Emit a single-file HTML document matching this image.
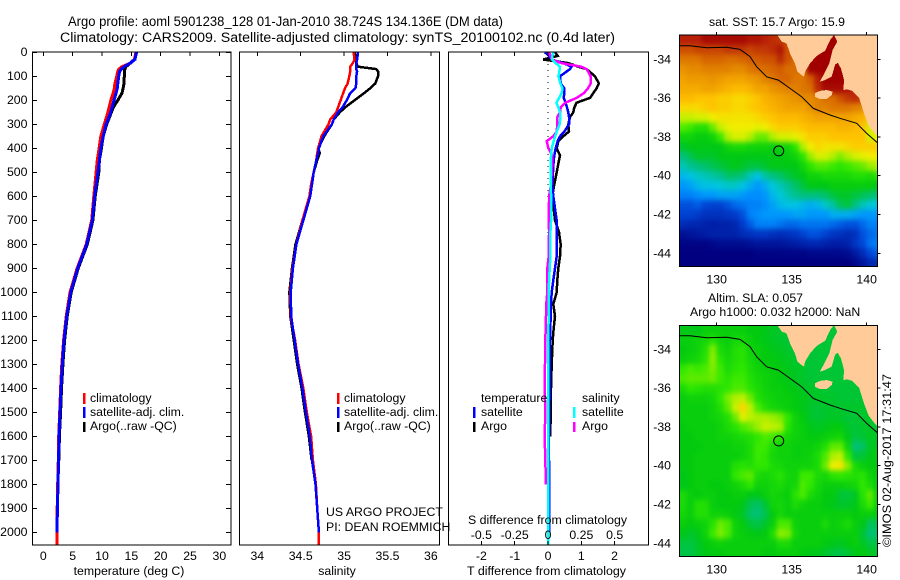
<!DOCTYPE html>
<html>
<head>
<meta charset="utf-8">
<title>Argo profile</title>
<style>
html,body{margin:0;padding:0;background:#fff}
svg{display:block}
text{font-family:"Liberation Sans",sans-serif;font-size:12.3px;fill:#000}
.e{text-anchor:end}.m{text-anchor:middle}
</style>
</head>
<body>
<svg id="chart" xmlns="http://www.w3.org/2000/svg" width="900" height="580" viewBox="0 0 900 580">
<rect width="900" height="580" fill="#fff"/>
<text x="68" y="26" textLength="435" lengthAdjust="spacingAndGlyphs" style="font-size:13.5px">Argo profile: aoml 5901238_128 01-Jan-2010 38.724S 134.136E (DM data)</text>
<text x="60" y="42" textLength="555" lengthAdjust="spacingAndGlyphs" style="font-size:13.5px">Climatology: CARS2009. Satellite-adjusted climatology: synTS_20100102.nc (0.4d later)</text>

<g id="p1"></g>
<g id="p2"></g>
<g id="p3"></g>
<g id="m1"></g>
<g id="m2"></g>

<text class="m" x="129" y="575">temperature (deg C)</text>
<text class="m" x="337" y="575">salinity</text>
<text x="467" y="575" textLength="159" lengthAdjust="spacingAndGlyphs">T difference from climatology</text>
<text x="468" y="524" textLength="159" lengthAdjust="spacingAndGlyphs">S difference from climatology</text>

<g>
<rect x="83" y="393" width="2.5" height="11" fill="#f00"/>
<rect x="83" y="407" width="2.5" height="11" fill="#00f"/>
<rect x="83" y="422" width="2.5" height="10" fill="#000"/>
<text x="90" y="402">climatology</text>
<text x="90" y="416">satellite-adj. clim.</text>
<text x="90" y="430">Argo(..raw -QC)</text>
</g>
<g>
<rect x="337" y="393" width="2.5" height="11" fill="#f00"/>
<rect x="337" y="407" width="2.5" height="11" fill="#00f"/>
<rect x="337" y="422" width="2.5" height="10" fill="#000"/>
<text x="344" y="402">climatology</text>
<text x="344" y="416">satellite-adj. clim.</text>
<text x="344" y="430">Argo(..raw -QC)</text>
</g>
<g>
<text x="481" y="402">temperature</text>
<rect x="473" y="407" width="2.5" height="11" fill="#00f"/>
<rect x="473" y="422" width="2.5" height="10" fill="#000"/>
<text x="481" y="416">satellite</text>
<text x="481" y="430">Argo</text>
<text x="582" y="402">salinity</text>
<rect x="573" y="407" width="2.5" height="11" fill="#0ff"/>
<rect x="573" y="422" width="2.5" height="10" fill="#f0f"/>
<text x="582" y="416">satellite</text>
<text x="582" y="430">Argo</text>
</g>
<text x="326" y="516">US ARGO PROJECT</text>
<text x="326" y="531">PI: DEAN ROEMMICH</text>

<text class="m" x="777" y="26">sat. SST: 15.7 Argo: 15.9</text>
<text x="708" y="302">Altim. SLA: 0.057</text>
<text x="690" y="316">Argo h1000: 0.032 h2000: NaN</text>
<text x="0" y="0" transform="translate(891,547) rotate(-90)" textLength="173" lengthAdjust="spacingAndGlyphs">©IMOS 02-Aug-2017 17:31:47</text>
</svg>

<script>
// ---- profile data ----
const depthTemp = [0,30,45,60,70,80,100,130,150,170,200,230,250,300,350,400,450,500,600,700,800,900,1000,1100,1200,1300,1400,1500,1600,1700,1800,1900,2000,2050];
const climTemp = [15.8,15.5,14.9,13.35,12.9,12.7,12.5,12.2,12.1,11.9,11.5,11.2,11.0,10.4,9.8,9.5,9.2,9.0,8.6,8.25,7.3,5.75,4.55,3.9,3.45,3.15,2.95,2.8,2.62,2.55,2.45,2.36,2.3,2.3];
const satTemp = [15.9,15.6,14.8,13.75,13.3,13.0,12.85,12.7,12.6,12.4,12.05,11.7,11.5,10.7,10.2,9.8,9.55,9.3,8.75,8.35,7.39,5.86,4.66,3.98,3.53,3.24,3.01,2.85,2.67,2.6,2.5,2.4,2.33,null];
const argoTemp = [15.9,15.5,14.8,14.1,13.9,13.8,13.8,13.75,13.6,13.4,12.7,11.9,11.6,10.8,10.2,9.9,9.55,9.45,8.85,8.45,7.5,5.95,4.75,4.08,3.63,3.34,3.1,2.95,2.75,2.65,null,null,null,null];

const depthSal = [0,30,45,60,70,80,100,130,150,170,200,230,250,280,300,350,400,420,450,500,550,600,700,800,900,1000,1100,1200,1300,1400,1500,1600,1700,1800,1900,2000,2050];
const climSal = [35.11,35.12,35.10,35.07,35.07,35.07,35.06,35.04,35.01,34.99,34.96,34.93,34.91,34.84,34.82,34.74,34.70,34.69,34.68,34.65,34.62,34.60,34.52,34.45,34.405,34.38,34.385,34.435,34.475,34.53,34.57,34.62,34.64,34.675,34.69,34.71,34.71];
const satSal = [35.16,35.15,35.14,35.14,35.14,35.15,35.14,35.14,35.13,35.07,35.03,34.98,34.93,34.88,34.86,34.76,34.71,34.70,34.68,34.65,34.63,34.61,34.53,34.45,34.41,34.385,34.39,34.43,34.47,34.52,34.56,34.605,34.63,34.67,34.69,34.71,null];
const argoSal = [35.12,35.14,35.14,35.16,35.37,35.39,35.39,35.36,35.30,35.23,35.12,35.01,34.95,34.88,34.86,34.77,34.70,34.72,34.69,34.65,34.63,34.61,34.52,34.44,34.40,34.37,34.38,34.42,34.46,34.51,34.55,34.595,34.625,null,null,null,null];

const depthDiff = [0,15,30,45,60,70,100,130,150,170,190,210,230,250,270,300,330,350,370,400,430,450,500,550,600,700,750,800,850,900,950,1000,1050,1100,1150,1200,1300,1400,1500,1600,1700,1800,1900,2000,2050];
const tDiffArgo = [.21,.29,-.14,.61,.91,1.16,1.41,1.53,1.46,1.36,1.26,.86,.79,.76,.66,.61,.63,.46,.31,.26,.36,.33,.26,.19,.13,.21,.33,.38,.36,.31,.28,.26,.16,.21,.17,.14,.11,.09,.08,.07,null,null,null,null,null];
const tDiffSat = [-.09,.03,.11,.46,.71,.66,.36,.38,.49,.49,.47,.53,.57,.61,.63,.63,.49,.36,.29,.23,.19,.17,.15,.13,.16,.26,.26,.27,.26,.21,.16,.11,.09,.08,.07,.06,.05,.05,.04,.03,.03,.03,.03,.03,null];
const sDiffArgo = [.008,.018,.028,.10,.25,.29,.32,.32,.30,.27,.215,.13,.095,.09,.07,.07,.065,.04,-.01,.003,.033,.033,.028,.023,.008,.005,.008,.005,.005,-.005,-.005,-.005,-.0125,-.015,-.0175,-.02,-.0225,-.025,-.02,-.025,-.02,-.015,null,null,null];
const sDiffSat = [.04,.033,.03,.058,.09,.088,.078,.093,.108,.103,.083,.063,.078,.09,.093,.088,.065,.053,.043,.028,.023,.02,.02,.02,.023,.023,.018,.018,.018,.013,.008,.005,.005,.005,.003,0,0,0,.002,.002,.002,.002,.002,.002,.002];

// ---- tick labels ----
const depthTicks = [0,100,200,300,400,500,600,700,800,900,1000,1100,1200,1300,1400,1500,1600,1700,1800,1900,2000];
const tempTicks = [0,5,10,15,20,25,30];
const salTicks = [34,34.5,35,35.5,36];
const tDiffTicks = [-2,-1,0,1,2];
const sDiffTicks = [-0.5,-0.25,0,0.25,0.5];
const lonTicks = [130,135,140];
const latTicks = [-34,-36,-38,-40,-42,-44];

// ---- map data ----
const argoLon = 134.136;
const argoLat = -38.724;
const cellDeg = 0.5;
const sstGrid = [
[19.3,19.3,19.3,19.5,19.5,19.5,19.5,19.5,19.5,19.4,19.4,19.3,19.2,19.1,18.9,18.9,18.8,19.6,19.6,19.6,19.6,19.6,19.6,19.6,19.6,19.6,19.6],
[18.9,18.9,19.0,19.0,19.0,19.0,19.1,19.1,19.1,19.0,19.1,19.1,19.2,19.4,18.9,18.7,18.6,19.6,19.6,19.6,19.6,19.6,19.6,19.6,19.6,19.6,19.6],
[18.5,18.5,18.5,18.7,18.7,18.7,18.6,18.6,18.7,18.8,18.8,18.9,18.9,19.2,18.9,18.6,18.5,19.6,19.6,19.6,19.6,19.6,19.6,19.6,19.6,19.6,19.6],
[18.2,18.3,18.3,18.4,18.4,18.4,18.4,18.3,18.3,18.5,18.6,18.6,18.7,18.8,18.6,18.6,18.4,19.6,19.6,19.6,19.6,19.6,19.6,19.6,19.6,19.6,19.6],
[18.0,18.1,18.1,18.1,18.2,18.1,18.0,18.0,18.0,18.1,18.2,18.4,18.5,18.7,18.7,18.5,18.5,18.8,19.3,19.6,19.6,19.6,19.6,19.6,19.6,19.6,19.6],
[17.9,17.9,17.9,18.0,18.0,17.9,17.8,17.7,17.7,17.8,18.0,18.0,18.2,18.3,18.4,18.4,18.5,18.6,19.2,19.5,19.5,19.5,19.4,19.3,19.0,18.8,18.6],
[17.7,17.7,17.6,17.6,17.6,17.5,17.5,17.4,17.4,17.5,17.6,17.8,17.9,18.0,18.1,18.2,18.3,18.3,18.4,18.6,18.6,18.9,19.1,19.2,19.0,18.8,18.6],
[17.4,17.4,17.4,17.5,17.6,17.5,17.5,17.4,17.4,17.5,17.6,17.7,17.8,17.9,18.0,18.0,18.0,18.2,18.4,18.4,18.5,18.5,18.5,18.4,18.3,18.0,18.4],
[16.9,16.9,17.0,17.0,17.2,17.3,17.3,17.3,17.3,17.3,17.4,17.5,17.6,17.7,17.7,17.7,17.8,17.9,18.0,18.0,18.0,18.0,18.0,17.9,17.8,17.4,18.0],
[16.4,16.3,16.1,16.1,16.5,16.9,17.1,17.2,17.2,17.2,17.1,17.2,17.4,17.5,17.5,17.5,17.6,17.7,17.7,17.7,17.7,17.8,17.8,17.7,17.6,17.0,17.2],
[15.9,15.9,15.8,15.8,15.9,16.3,16.8,17.0,17.0,16.8,16.5,16.5,16.8,17.0,17.0,17.1,17.3,17.5,17.5,17.5,17.6,17.6,17.6,17.6,17.6,17.0,17.2],
[15.6,15.7,15.7,15.7,15.7,15.7,15.9,16.0,16.0,15.9,15.9,15.9,15.8,15.9,15.9,16.2,16.8,17.2,17.4,17.3,17.3,17.3,17.4,17.5,17.5,17.5,17.5],
[15.2,15.4,15.6,15.6,15.6,15.7,15.7,15.7,15.7,15.7,15.7,15.7,15.7,15.7,15.8,15.9,16.2,16.7,17.0,17.0,16.8,16.6,16.8,17.0,17.1,17.2,17.2],
[14.9,15.1,15.2,15.3,15.4,15.5,15.6,15.7,15.6,15.5,15.5,15.6,15.7,15.7,15.7,15.7,15.9,16.2,16.4,16.4,16.3,16.2,16.3,16.4,16.5,16.7,16.8],
[14.5,14.6,14.8,14.9,15.0,15.1,15.3,15.3,15.2,14.9,14.6,15.0,15.2,15.3,15.5,15.6,15.7,15.9,15.9,16.0,16.0,16.0,16.0,16.1,16.1,16.0,16.2],
[14.2,14.3,14.5,14.6,14.6,14.7,14.8,14.8,14.6,14.4,14.2,14.4,14.7,14.9,15.1,15.3,15.5,15.7,15.7,15.7,15.8,15.8,15.8,15.8,15.8,15.8,15.7],
[14.0,14.0,14.1,14.2,14.2,14.3,14.3,14.3,14.2,14.1,14.1,14.2,14.5,14.7,14.9,15.1,15.2,15.2,15.2,15.3,15.5,15.6,15.6,15.5,15.4,15.3,15.2],
[13.6,13.6,13.7,13.5,13.4,13.4,13.6,13.8,13.9,14.0,14.0,14.1,14.3,14.5,14.6,14.6,14.5,14.4,14.5,14.8,15.0,15.4,15.5,15.2,14.9,14.7,14.7],
[13.4,13.4,13.3,13.1,13.1,13.1,13.2,13.3,13.6,14.0,14.1,14.2,14.2,14.2,14.2,14.3,14.3,14.2,14.2,14.2,14.4,14.4,14.4,14.3,14.2,14.2,14.2],
[13.0,12.9,12.9,12.8,12.7,12.8,12.8,12.9,13.3,13.7,14.0,14.0,14.0,13.9,13.8,13.8,13.9,13.9,13.9,13.9,13.8,13.7,13.6,13.6,13.8,14.0,14.0],
[12.4,12.5,12.6,12.7,12.8,12.8,12.8,12.8,13.0,13.1,13.2,13.2,13.1,13.0,13.1,13.2,13.4,13.6,13.6,13.4,13.2,13.1,13.0,13.1,13.6,13.8,13.9],
[12.1,12.1,12.1,12.1,12.2,12.3,12.3,12.3,12.3,12.4,12.5,12.5,12.5,12.5,12.6,12.7,12.8,12.9,12.9,12.8,12.7,12.7,12.8,13.2,13.5,13.9,14.0],
[12.0,12.0,12.0,12.0,12.0,12.0,12.0,12.0,12.0,12.0,12.1,12.1,12.1,12.1,12.1,12.1,12.1,12.2,12.2,12.2,12.2,12.2,12.3,12.6,13.0,13.5,13.7],
[12.0,12.0,12.0,12.0,12.0,12.0,12.0,12.0,12.0,12.0,12.0,12.0,12.0,12.0,12.0,12.0,12.0,12.0,12.0,12.0,12.0,12.0,12.0,12.2,12.5,12.9,13.0]
];
const slaGrid = [
[.0,.0,.0,.02,.02,.02,.02,.02,.02,.01,.01,.0,-.01,-.02,-.02,-.03,-.03,-.03,-.03,-.03,-.03,-.03,-.03,-.03,-.03,-.03,-.03],
[.02,.02,.03,.04,.06,.03,.02,.04,.04,.02,.01,.0,-.01,-.02,-.03,-.03,-.03,-.03,-.03,-.03,-.03,-.03,-.03,-.03,-.03,-.03,-.03],
[.01,.02,.03,.06,.13,.05,.03,.06,.07,.03,.02,.01,.0,-.01,-.02,-.03,-.03,-.03,-.03,-.03,-.03,-.03,-.03,-.03,-.03,-.03,-.03],
[.02,.03,.04,.07,.14,.07,.04,.06,.07,.04,.02,.01,.01,.0,-.01,-.02,-.03,-.03,-.03,-.03,-.03,-.03,-.03,-.03,-.03,-.03,-.03],
[.08,.1,.09,.1,.13,.09,.05,.07,.08,.05,.03,.02,.01,.01,.0,-.01,-.02,-.03,-.03,-.03,-.03,-.03,-.03,-.03,-.03,-.03,-.03],
[.1,.11,.11,.11,.12,.09,.07,.09,.09,.06,.04,.03,.02,.01,.0,-.01,-.02,-.03,-.03,-.03,-.03,-.03,-.03,-.03,-.03,-.03,-.03],
[.05,.08,.07,.06,.06,.07,.08,.1,.1,.07,.05,.03,.02,.02,.01,.0,-.01,-.02,-.02,-.03,-.03,-.03,-.03,-.03,-.03,-.03,-.03],
[.02,.03,.03,.03,.04,.08,.13,.16,.17,.12,.06,.04,.03,.02,.02,.01,.0,-.01,-.01,-.02,-.02,-.03,-.03,-.03,-.03,-.03,-.03],
[.02,.02,.02,.02,.03,.06,.11,.18,.25,.17,.1,.06,.04,.03,.02,.01,.0,-.02,-.03,-.02,-.02,-.02,-.02,-.02,-.02,-.03,-.03],
[.02,.02,.02,.02,.03,.04,.06,.12,.2,.17,.16,.16,.15,.13,.08,.03,.01,-.02,-.03,-.02,-.01,-.02,-.03,-.03,-.02,-.02,-.03],
[.01,.02,.02,.02,.02,.03,.05,.07,.1,.12,.15,.18,.17,.16,.07,.03,.02,.0,-.01,.0,.01,.01,-.02,-.03,-.02,-.02,-.02],
[.01,.01,.02,.02,.02,.03,.03,.04,.05,.06,.08,.1,.09,.07,.04,.03,.02,.01,.01,.02,.03,.04,.0,-.04,-.03,-.01,-.01],
[.01,.01,.01,.02,.02,.02,.02,.03,.03,.05,.09,.09,.05,.03,.03,.02,.02,.02,.03,.06,.11,.11,.03,-.1,-.08,-.01,.0],
[.01,.01,.02,.02,.02,.02,.02,.02,.03,.05,.09,.08,.04,.03,.03,.02,.02,.03,.05,.1,.16,.17,.08,-.04,-.03,.0,.01],
[.01,.01,.02,.02,.02,.02,.02,.06,.07,.06,.08,.08,.05,.04,.03,.03,.03,.03,.05,.12,.22,.23,.14,.05,.02,.01,.01],
[.0,.01,.02,.02,.02,.02,.02,.08,.1,.11,.05,.04,.05,.07,.04,.03,.09,.09,.05,.04,.07,.08,.07,.06,.07,.03,.01],
[.0,.01,.02,.02,.01,.01,.02,.03,.05,.08,.03,.03,.04,.05,.03,.04,.1,.08,.04,.02,.02,.02,.03,.04,.08,.05,.01],
[.05,.02,.01,.02,.02,.01,.01,.02,.02,.0,.0,.02,.04,.03,.02,.07,.1,.05,.03,.01,.01,-.03,-.04,-.01,.07,.11,.02],
[.05,.02,.06,.06,.02,.01,.01,.01,.0,-.06,-.08,-.03,.03,.04,.02,.05,.03,.02,.02,.01,.0,-.02,-.02,.0,.05,.09,.02],
[.04,.02,.06,.06,.03,.03,.02,.01,-.02,-.08,-.1,-.06,.01,.04,.02,.02,.02,.02,.02,.02,.02,.02,.02,.01,.02,.02,.01],
[.02,.01,.02,.03,.07,.12,.1,.03,.01,-.03,-.05,-.02,.02,.1,.1,.03,.02,.02,.02,.05,.02,.03,.05,.02,.0,-.07,-.06],
[.0,-.02,.0,.03,.09,.13,.1,.03,.02,.01,.0,.01,.06,.14,.13,.04,.02,.02,.02,.02,.02,.02,.02,.02,-.03,-.1,-.08],
[-.04,-.04,-.02,.01,.02,.03,.02,.02,.02,.02,.02,.02,.02,.05,.05,.02,.02,.02,.02,.01,.0,-.01,.01,.02,-.01,-.05,-.04],
[-.05,-.05,-.02,.0,.01,.01,.02,.02,.02,.02,.02,.01,.01,.02,.02,.02,.01,.0,.0,-.02,-.04,-.05,-.03,.0,.01,-.01,-.02]
];
const coastLon = [134.04,134.33,134.66,134.89,135.22,135.38,135.67,135.82,135.89,136.22,136.66,137.22,137.60,137.82,138.04,137.73,137.51,137.11,136.89,137.22,137.66,137.89,138.06,138.29,138.49,138.44,138.71,139.00,139.51,139.82,140.11,140.44,140.82,140.82];
const coastLat = [-32.75,-33.09,-33.18,-33.69,-34.21,-34.64,-34.81,-34.90,-34.64,-34.21,-33.83,-33.56,-32.97,-32.75,-33.09,-33.52,-34.21,-34.81,-35.15,-35.07,-34.90,-34.29,-34.17,-34.47,-35.07,-35.58,-35.55,-35.62,-36.01,-36.79,-37.39,-37.73,-38.07,-32.75];
const islandLon = [136.55,136.89,137.33,137.73,137.67,137.33,136.89,136.55];
const islandLat = [-35.75,-35.63,-35.58,-35.67,-35.84,-36.05,-36.05,-35.93];
const shelfLon = [127.51,128.22,129.33,130.66,131.55,132.22,132.66,133.33,134.11,134.89,135.66,136.44,137.55,138.22,139.33,140.0,140.71];
const shelfLat = [-33.30,-33.30,-33.40,-33.38,-33.49,-33.86,-34.38,-34.90,-35.07,-35.50,-35.93,-36.53,-36.87,-37.04,-37.30,-37.82,-38.30];

// ---- helpers ----
const NS = 'http://www.w3.org/2000/svg';
function mk(parent, tag, attrs, txt) {
  const el = document.createElementNS(NS, tag);
  for (const k in attrs) el.setAttribute(k, attrs[k]);
  if (txt !== undefined) el.textContent = txt;
  parent.appendChild(el);
  return el;
}
const depthY = d => 52.3 + d * 0.24;
const tempX = v => 43.3 + v * 5.87;
const salX = v => 257.3 + (v - 34) * 86.8;
const tDiffX = v => 548 + v * 33.3;
const sDiffX = v => 548 + v * 133.3;

function drawLine(g, name, depths, vals, xf, color, w) {
  const pts = [];
  depths.forEach((d, i) => {
    if (vals[i] !== null) pts.push(xf(vals[i]).toFixed(1) + ',' + depthY(d).toFixed(1));
  });
  const el = mk(g, 'polyline', {points: pts.join(' '), fill: 'none', stroke: color, 'stroke-width': w, 'shape-rendering': 'crispEdges'});
  
  
}
function drawFrame(g, x0, x1) {
  const el = mk(g, 'rect', {x: x0, y: 52, width: x1 - x0, height: 493, fill: 'none', stroke: '#000', 'stroke-width': 1.1, 'shape-rendering': 'crispEdges'});
  
  
}
function vTick(g, x, y0, y1) {
  const el = mk(g, 'line', {x1: x, x2: x, y1: y0, y2: y1, stroke: '#000', 'shape-rendering': 'crispEdges'});
  
  
}
function hTick(g, y, x0, x1) {
  const el = mk(g, 'line', {x1: x0, x2: x1, y1: y, y2: y, stroke: '#000', 'shape-rendering': 'crispEdges'});
  
  
}
function label(g, name, x, y, cls, s) {
  const el = mk(g, 'text', {x: x, y: y, class: cls}, s);
  
  
}

// ---- temperature panel ----
const p1 = document.getElementById('p1');
drawLine(p1, 'argo-temperature-line', depthTemp, argoTemp, tempX, '#000', 3);
drawLine(p1, 'climatology-temperature-line', depthTemp, climTemp, tempX, '#f00', 3);
drawLine(p1, 'satellite-temperature-line', depthTemp, satTemp, tempX, '#00f', 3);
drawFrame(p1, 32.5, 231);
depthTicks.forEach(d => {
  hTick(p1, depthY(d), 32.5, 37);
  hTick(p1, depthY(d), 226, 231);
  label(p1, 'depth-tick-label', 27.5, depthY(d) + 3.8, 'e', String(d));
});
tempTicks.forEach(t => {
  vTick(p1, tempX(t), 52, 56);
  label(p1, 'temperature-tick-label', tempX(t), 560, 'm', String(t));
});

// ---- salinity panel ----
const p2 = document.getElementById('p2');
drawLine(p2, 'argo-salinity-line', depthSal, argoSal, salX, '#000', 2.5);
drawLine(p2, 'climatology-salinity-line', depthSal, climSal, salX, '#f00', 2.5);
drawLine(p2, 'satellite-salinity-line', depthSal, satSal, salX, '#00f', 2.5);
drawFrame(p2, 239.5, 439.5);
salTicks.forEach(s => {
  vTick(p2, salX(s), 52, 56);
  label(p2, 'salinity-tick-label', salX(s), 560, 'm', String(s));
});

// ---- difference panel ----
const p3 = document.getElementById('p3');
const zeroLine = mk(p3, 'line', {x1: 548, x2: 548, y1: 52, y2: 545, stroke: '#000', 'stroke-dasharray': '1 5', 'shape-rendering': 'crispEdges'});


drawLine(p3, 't-difference-argo-line', depthDiff, tDiffArgo, tDiffX, '#000', 2.5);
drawLine(p3, 't-difference-satellite-line', depthDiff, tDiffSat, tDiffX, '#00f', 2.5);
drawLine(p3, 's-difference-argo-line', depthDiff, sDiffArgo, sDiffX, '#f0f', 2.5);
drawLine(p3, 's-difference-satellite-line', depthDiff, sDiffSat, sDiffX, '#0ff', 2.5);
drawFrame(p3, 448.5, 648.5);
tDiffTicks.forEach(t => {
  vTick(p3, tDiffX(t), 52, 56);
  vTick(p3, tDiffX(t), 541, 545);
  label(p3, 't-difference-tick-label', tDiffX(t), 560, 'm', String(t));
});
sDiffTicks.forEach(s => {
  label(p3, 's-difference-tick-label', sDiffX(s), 539, 'm', String(s));
});

// ---- colour scale ----
const stopT = [0,.1,.2,.28,.35,.42,.49,.56,.64,.68,.74,.82,.9,.96,1];
const stopC = [[0,0,128],[0,32,168],[0,72,216],[0,144,255],[0,200,224],[0,192,128],[0,200,16],[48,232,0],[192,240,0],[240,240,0],[255,192,0],[232,144,0],[208,88,0],[184,32,8],[160,0,0]];
function colour(t) {
  t = Math.max(0, Math.min(1, t));
  let i = 0;
  while (i < stopT.length - 2 && t > stopT[i + 1]) i++;
  const f = (t - stopT[i]) / (stopT[i + 1] - stopT[i]);
  const c = stopC[i].map((a, k) => Math.round(a + (stopC[i + 1][k] - a) * f));
  return 'rgb(' + c.join(',') + ')';
}
const sstColour = v => colour((v - 12) / 7.6);
const slaColour = v => colour(v < 0 ? .485 + v * .6 : .485 + v * .9);

// ---- maps ----
function drawMap(g, top, bottom, lat34Y, grid, colourFn, prefix) {
  const left = 679.5, right = 877.5;
  const lonX = v => 716.7 + (v - 130) * 15;
  const latY = v => lat34Y + (-34 - v) * 19.4;
  const clipId = prefix + '-clip';
  const blurId = prefix + '-soften';
  const defs = mk(g, 'defs', {});
  const cp = mk(defs, 'clipPath', {id: clipId});
  mk(cp, 'rect', {x: left, y: top, width: right - left, height: bottom - top});
  const flt = mk(defs, 'filter', {id: blurId, filterUnits: 'userSpaceOnUse', x: left - 20, y: top - 20, width: right - left + 40, height: bottom - top + 40, 'color-interpolation-filters': 'sRGB'});
  mk(flt, 'feGaussianBlur', {stdDeviation: '2 2.6'});
  const body = mk(g, 'g', {'clip-path': 'url(#' + clipId + ')'});
  
  
  const cells = mk(body, 'g', {filter: 'url(#' + blurId + ')'});
  
  
  grid.forEach((row, j) => {
    row.forEach((v, i) => {
      let x0 = lonX(127.5 + i * cellDeg), x1 = lonX(127.5 + (i + 1) * cellDeg);
      let y0 = latY(-32.75 - j * cellDeg), y1 = latY(-32.75 - (j + 1) * cellDeg);
      if (i === 0) x0 -= 15;
      if (i === row.length - 1) x1 += 15;
      if (j === 0) y0 -= 15;
      if (j === grid.length - 1) y1 += 15;
      const cell = mk(cells, 'rect', {x: x0.toFixed(1), y: y0.toFixed(1), width: (x1 - x0 + .5).toFixed(1), height: (y1 - y0 + .5).toFixed(1), fill: colourFn(v), 'shape-rendering': 'crispEdges'});
      
      
    });
  });
  const land = mk(body, 'polygon', {points: coastLon.map((v, i) => lonX(v).toFixed(1) + ',' + latY(coastLat[i]).toFixed(1)).join(' '), fill: '#ffcc99', 'shape-rendering': 'crispEdges'});
  
  
  const island = mk(body, 'polygon', {points: islandLon.map((v, i) => lonX(v).toFixed(1) + ',' + latY(islandLat[i]).toFixed(1)).join(' '), fill: '#ffcc99', 'shape-rendering': 'crispEdges'});
  
  
  const shelf = mk(body, 'polyline', {points: shelfLon.map((v, i) => lonX(v).toFixed(1) + ',' + latY(shelfLat[i]).toFixed(1)).join(' '), fill: 'none', stroke: '#000', 'stroke-width': 1});
  
  
  const marker = mk(body, 'circle', {cx: lonX(argoLon).toFixed(1), cy: latY(argoLat).toFixed(1), r: 5, fill: 'none', stroke: '#000', 'stroke-width': 1});
  
  
  const frame = mk(g, 'rect', {x: left, y: top, width: right - left, height: bottom - top, fill: 'none', stroke: '#000', 'shape-rendering': 'crispEdges'});
  
  
  lonTicks.forEach(v => {
    vTick(g, lonX(v), top - 3, top);
    label(g, 'longitude-tick-label', lonX(v), bottom + 17, 'm', String(v));
  });
  latTicks.forEach(v => {
    hTick(g, latY(v), right, right + 3);
    label(g, 'latitude-tick-label', 671, latY(v) + 4, 'e', String(v));
  });
}
drawMap(document.getElementById('m1'), 35, 266.5, 59.3, sstGrid, sstColour, 'sst');
drawMap(document.getElementById('m2'), 325.5, 556.5, 349.3, slaGrid, slaColour, 'sla');
</script>
</body>
</html>
